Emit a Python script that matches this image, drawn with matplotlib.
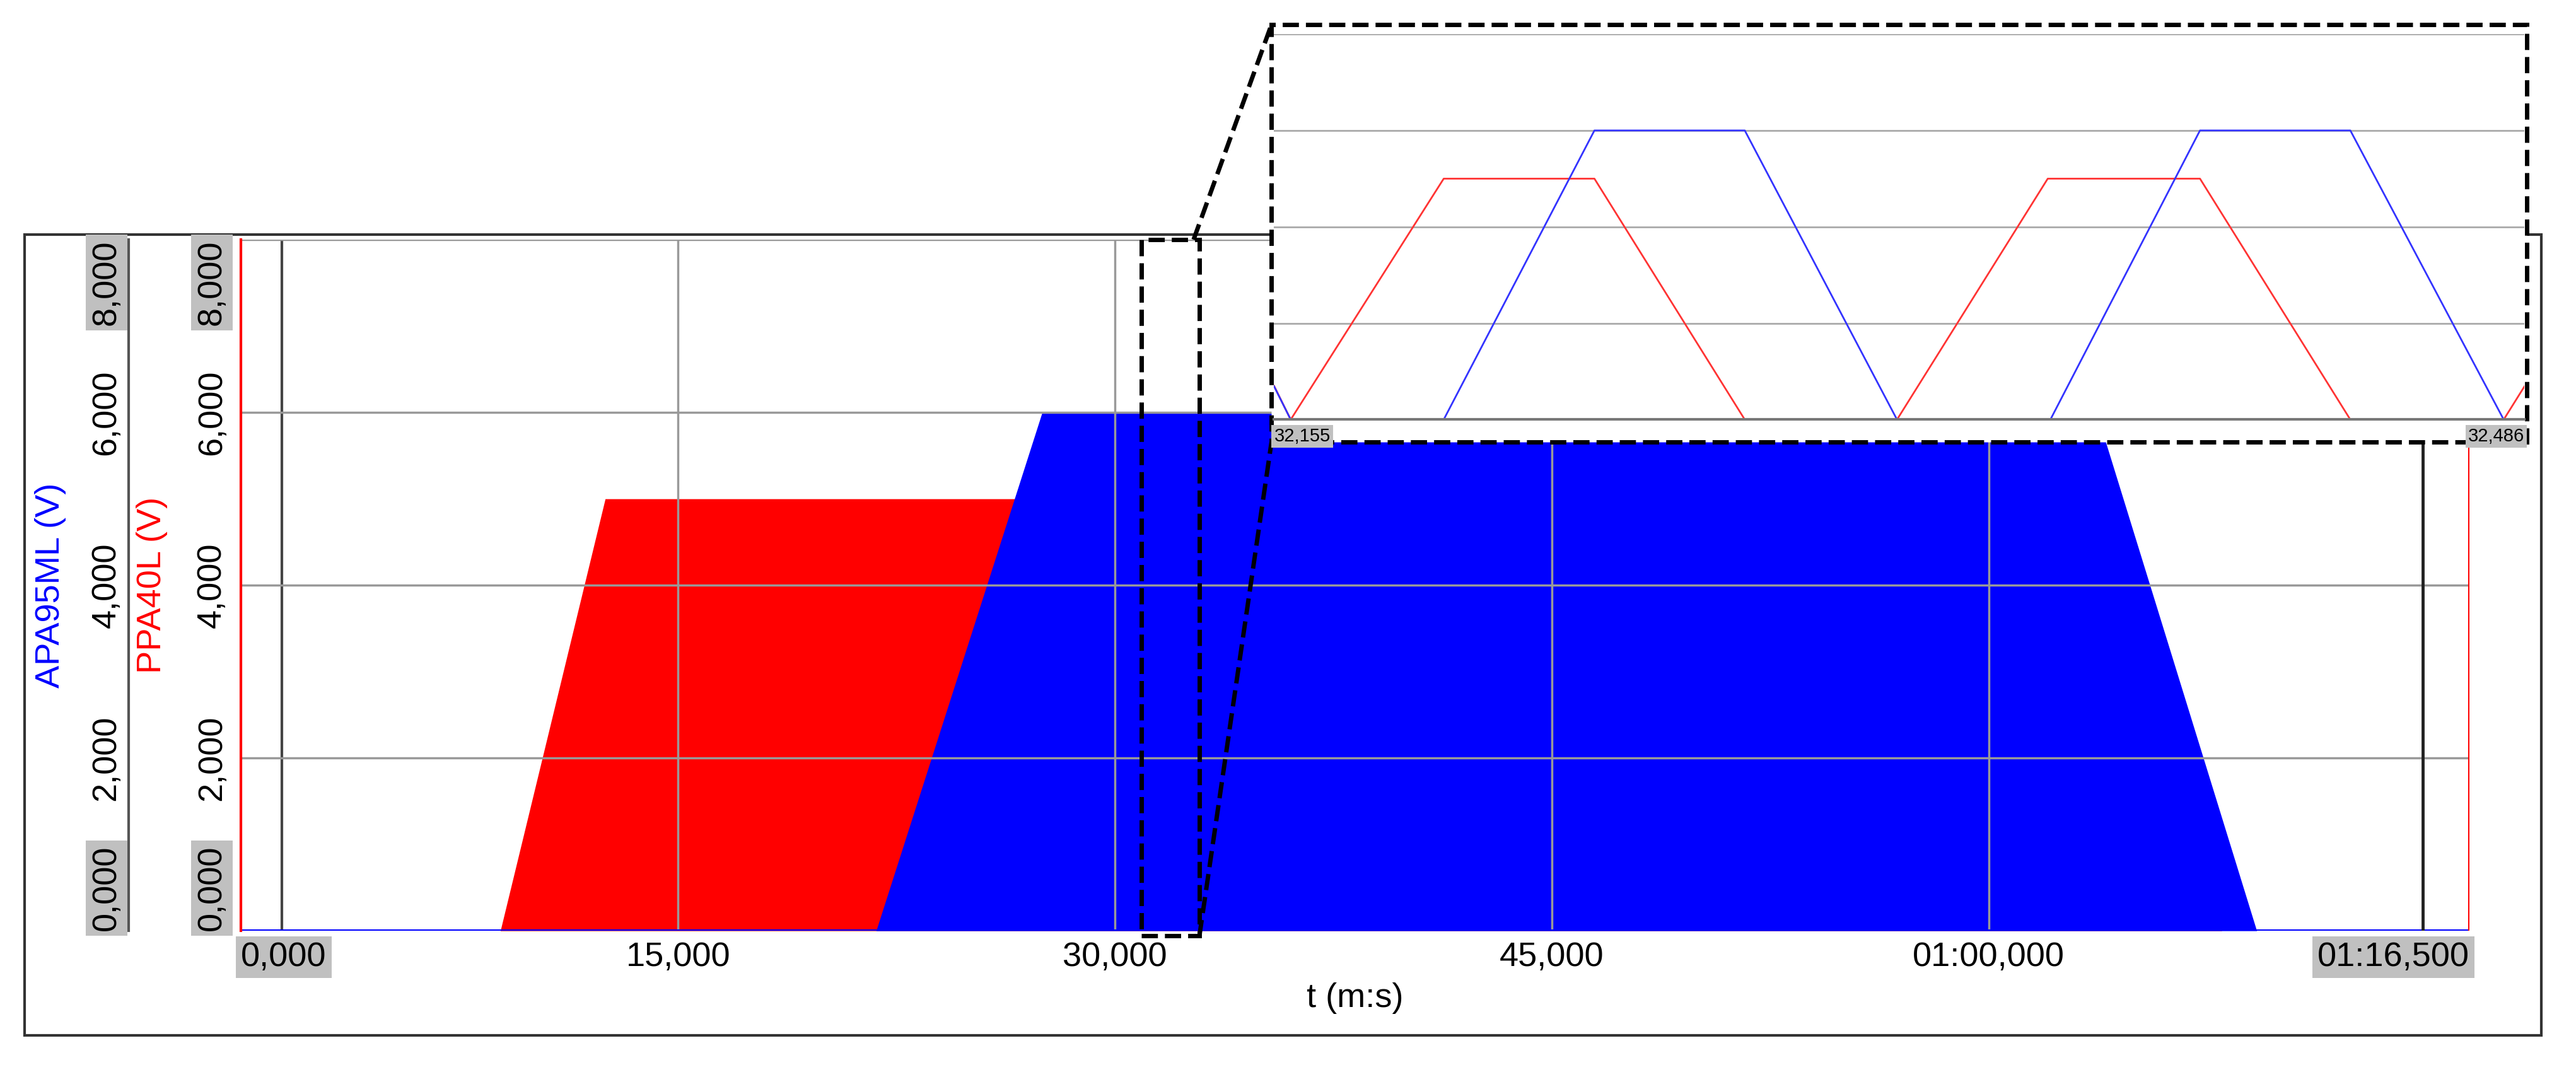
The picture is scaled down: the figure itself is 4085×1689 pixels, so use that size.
import matplotlib
matplotlib.use("Agg")
import matplotlib.pyplot as plt
from matplotlib.transforms import blended_transform_factory
from matplotlib.patches import Rectangle
from matplotlib.lines import Line2D

plt.rcParams['font.family'] = ['Liberation Sans', 'DejaVu Sans']

# envelope of the two drive signals (s, V)
red_t = [0, 8.9, 12.5, 63.0, 68.0, 76.5]
red_v = [0, 0, 5000, 5000, 0, 0]
blue_t = [0, 21.8, 27.5, 63.7, 69.2, 76.5]
blue_v = [0, 0, 6000, 6000, 0, 0]

# zoomed detail, offsets in ms from 32,155 s
red_ms = [0, 4.4, 44.9, 84.8, 124.6, 164.9, 204.8, 245.1, 284.9, 325.5, 331]
red_zv = [700, 0, 5000, 5000, 0, 0, 5000, 5000, 0, 0, 690]
blue_ms = [0, 4.4, 44.9, 84.8, 124.6, 164.9, 205.5, 245.1, 284.9, 325.5, 331]
blue_zv = [690, 0, 0, 6000, 6000, 0, 0, 6000, 6000, 0, 0]

xticks = [0, 15, 30, 45, 60, 76.5]
xlabels = ['0,000', '15,000', '30,000', '45,000', '01:00,000', '01:16,500']
cursors = [1.4, 74.9]
yticks = [0, 2000, 4000, 6000, 8000]
ylabels = ['0,000', '2,000', '4,000', '6,000', '8,000']

fig = plt.figure(figsize=(40.85, 16.89), dpi=100)
fig.patches.append(Rectangle((0.0096, 0.028), 0.977, 0.752, transform=fig.transFigure,
                             fill=False, edgecolor='#333333', lw=3))

ax = fig.add_axes([0.0936, 0.126, 0.865, 0.649])
ax.fill_between(red_t, red_v, color='#ff0000', lw=0)
ax.fill_between(blue_t, blue_v, color='#0000ff', lw=0)
ax.plot([0, 76.5], [0, 0], color='#0000ff', lw=3)
ax.set_xlim(0, 76.5)
ax.set_ylim(0, 8000)
ax.set_xticks(xticks[1:-1])
ax.set_xticklabels([])
ax.set_yticks(yticks)
ax.set_yticklabels([])
ax.tick_params(length=0)
ax.grid(True, color='#999999', lw=2.5)
ax.axvline(cursors[0], color='#444444', lw=3, zorder=0.5)
ax.axvline(cursors[1], color='#222222', lw=3.5)
ax.axvline(76.5, color='#ff0000', lw=3)
for s in ['top', 'right', 'bottom']:
    ax.spines[s].set_visible(False)
ax.spines['left'].set_color('#ff0000')
ax.spines['left'].set_linewidth(3)

box = dict(facecolor='#c0c0c0', edgecolor='none', pad=6)
for x, lab in zip(xticks, xlabels):
    ha = 'left' if x == 0 else ('right' if x == 76.5 else 'center')
    ax.text(x, -120, lab, ha=ha, va='top', fontsize=39,
            bbox=box if lab in ('0,000', '01:16,500') else None)
ax.text(0.5, -0.075, 't (m:s)', transform=ax.transAxes, ha='center', va='top', fontsize=39)

tr = blended_transform_factory(fig.transFigure, ax.transData)
for colx in [0.0413, 0.0822]:
    for y, lab in zip(yticks, ylabels):
        va = 'bottom' if y == 0 else ('top' if y == 8000 else 'center')
        fig.text(colx, y, lab, transform=tr, rotation=90, ha='center', va=va,
                 fontsize=39, bbox=box if y in (0, 8000) else None)
fig.lines.append(Line2D([0.05, 0.05], [0, 8000], transform=tr, color='#555555', lw=3))
fig.text(0.0196, 4000, 'APA95ML (V)', transform=tr, rotation=90, ha='center', va='center',
         fontsize=39, color='#0000ff')
fig.text(0.059, 4000, 'PPA40L (V)', transform=tr, rotation=90, ha='center', va='center',
         fontsize=39, color='#ff0000')

# zoom marker on main plot
ax.add_patch(Rectangle((30.9, -60), 2.0, 8060, fill=False, ls='--', lw=5,
                       edgecolor='black', clip_on=False, zorder=5))

# inset
ix0, ix1, iy0, iy1 = 0.4936, 0.981, 0.585, 0.977
fig.patches.append(Rectangle((ix0, iy0), ix1 - ix0, iy1 - iy0, transform=fig.transFigure,
                             facecolor='white', edgecolor='black', ls='--', lw=5, zorder=3))
for (xa, ya), (xb, yb) in [((32.7, 8000), (ix0, iy1)), ((32.9, -60), (ix0, iy0))]:
    p = fig.transFigure.inverted().transform(ax.transData.transform((xa, ya)))
    fig.lines.append(Line2D([p[0], xb], [p[1], yb], transform=fig.transFigure,
                            color='black', ls='--', lw=5, zorder=4))

iax = fig.add_axes([ix0 + 0.001, 0.606, ix1 - ix0 - 0.002, 0.362], zorder=5)
t0 = 32.155
iax.plot([t0 + m / 1000 for m in red_ms], red_zv, color='#ff3333', lw=2)
iax.plot([t0 + m / 1000 for m in blue_ms], blue_zv, color='#3333ff', lw=2)
iax.set_xlim(32.155, 32.486)
iax.set_ylim(0, 8000)
iax.set_yticks(yticks)
iax.set_xticks([])
iax.set_yticklabels([])
iax.tick_params(length=0)
iax.grid(True, axis='y', color='#aaaaaa', lw=2)
for s in iax.spines.values():
    s.set_visible(False)
iax.spines['bottom'].set_visible(True)
iax.spines['bottom'].set_color('#777777')
iax.spines['bottom'].set_linewidth(3)
sbox = dict(facecolor='#c0c0c0', edgecolor='none', pad=3)
iax.text(0.0, -0.02, '32,155', transform=iax.transAxes, ha='left', va='top', fontsize=21, bbox=sbox)
iax.text(1.0, -0.02, '32,486', transform=iax.transAxes, ha='right', va='top', fontsize=21, bbox=sbox)

fig.savefig('out.png', dpi=100)
